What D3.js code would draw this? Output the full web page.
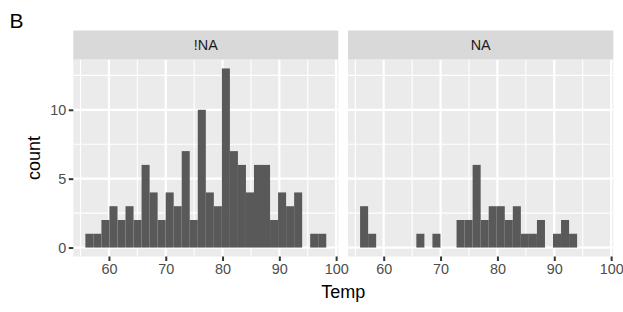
<!DOCTYPE html>
<html>
<head>
<meta charset="utf-8">
<script src="https://cdn.jsdelivr.net/npm/d3@7"></script>
<style>
  html, body { margin: 0; padding: 0; background: #fff; }
  svg { display: block; font-family: "Liberation Sans", Arial, Helvetica, sans-serif; }
</style>
</head>
<body>
<div id="chart"></div>
<script>
// histogram of Temp, faceted by whether Ozone is missing (30 bins, shared breaks)

const facetNames = ["!NA", "NA"];

// counts per bin, left to right
const countsNotNA = [1, 1, 2, 3, 2, 3, 2, 6, 4, 2, 4, 3, 7, 2, 10, 4, 3, 13, 7, 6, 4, 6, 6, 2, 4, 3, 4, 0, 1, 1];
const countsNA    = [3, 1, 0, 0, 0, 0, 0, 1, 0, 1, 0, 0, 2, 2, 6, 2, 3, 3, 2, 3, 1, 1, 2, 0, 1, 2, 1, 0, 0, 0];

// bin setup (range 56..97, 30 bins)
const binWidth = 41 / 29;
const binStart = 55.845;

const xTicks = [60, 70, 80, 90, 100];
const xMinor = [55, 65, 75, 85, 95];
const yTicks = [0, 5, 10];
const yMinor = [2.5, 7.5, 12.5];

const xDomain = [53.72, 100.38];
const yDomain = [-0.65, 13.65];

const W = 623, H = 312;

const svg = d3.select("#chart").append("svg")
  .attr("width", W)
  .attr("height", H);

// panel boxes
const panels = [
  { name: facetNames[0], counts: countsNotNA, x0: 73.3, x1: 338.3 },
  { name: facetNames[1], counts: countsNA,    x0: 348,  x1: 613.3 }
];
const stripTop = 30.5, panelTop = 59.5, panelBottom = 256.5;

const y = d3.scaleLinear().domain(yDomain).range([panelBottom, panelTop]);

panels.forEach((p, pi) => {
  const x = d3.scaleLinear().domain(xDomain).range([p.x0, p.x1]);
  const g = svg.append("g");

  // background
  g.append("rect")
    .attr("x", p.x0).attr("y", panelTop)
    .attr("width", p.x1 - p.x0).attr("height", panelBottom - panelTop)
    .attr("fill", "#EBEBEB");

  // minor grid
  g.selectAll(".xminor").data(xMinor).join("line")
    .attr("x1", d => x(d)).attr("x2", d => x(d))
    .attr("y1", panelTop).attr("y2", panelBottom)
    .attr("stroke", "#fff").attr("stroke-width", 1.1);
  g.selectAll(".yminor").data(yMinor).join("line")
    .attr("x1", p.x0).attr("x2", p.x1)
    .attr("y1", d => y(d)).attr("y2", d => y(d))
    .attr("stroke", "#fff").attr("stroke-width", 1.1);

  // major grid
  g.selectAll(".xmajor").data(xTicks).join("line")
    .attr("x1", d => x(d)).attr("x2", d => x(d))
    .attr("y1", panelTop).attr("y2", panelBottom)
    .attr("stroke", "#fff").attr("stroke-width", 2.2);
  g.selectAll(".ymajor").data(yTicks).join("line")
    .attr("x1", p.x0).attr("x2", p.x1)
    .attr("y1", d => y(d)).attr("y2", d => y(d))
    .attr("stroke", "#fff").attr("stroke-width", 2.2);

  // bars
  const bins = p.counts.map((c, i) => ({
    lo: binStart + i * binWidth,
    hi: binStart + (i + 1) * binWidth,
    n: c
  })).filter(d => d.n > 0);

  g.selectAll(".bar").data(bins).join("rect")
    .attr("x", d => x(d.lo))
    .attr("width", d => x(d.hi) - x(d.lo))
    .attr("y", d => y(d.n))
    .attr("height", d => y(0) - y(d.n))
    .attr("fill", "#595959");

  // strip
  svg.append("rect")
    .attr("x", p.x0).attr("y", stripTop)
    .attr("width", p.x1 - p.x0).attr("height", panelTop - stripTop)
    .attr("fill", "#D9D9D9");
  svg.append("text")
    .attr("x", (p.x0 + p.x1) / 2)
    .attr("y", (stripTop + panelTop) / 2)
    .attr("dy", "0.35em")
    .attr("text-anchor", "middle")
    .attr("font-size", 14.4)
    .attr("fill", "#1A1A1A")
    .text(p.name);

  // x axis
  const xAxis = svg.append("g")
    .attr("transform", `translate(0,${panelBottom})`)
    .call(d3.axisBottom(x).tickValues(xTicks).tickSize(4.5).tickPadding(3).tickFormat(d3.format("d")));
  xAxis.select(".domain").remove();
  xAxis.selectAll(".tick line").attr("stroke", "#333333").attr("stroke-width", 2);
  xAxis.selectAll(".tick text").attr("fill", "#4D4D4D").attr("font-size", 14.4)
    .attr("font-family", null);

  // y axis only on first panel
  if (pi === 0) {
    const yAxis = svg.append("g")
      .attr("transform", `translate(${p.x0},0)`)
      .call(d3.axisLeft(y).tickValues(yTicks).tickSize(4.5).tickPadding(2.5));
    yAxis.select(".domain").remove();
    yAxis.selectAll(".tick line").attr("stroke", "#333333").attr("stroke-width", 2);
    yAxis.selectAll(".tick text").attr("fill", "#4D4D4D").attr("font-size", 14.4)
      .attr("font-family", null);
  }
});

// axis titles
svg.append("text")
  .attr("x", (panels[0].x0 + panels[1].x1) / 2)
  .attr("y", 297.5)
  .attr("text-anchor", "middle")
  .attr("font-size", 18)
  .attr("fill", "#000")
  .text("Temp");

svg.append("text")
  .attr("transform", `translate(39.5,${(panelTop + panelBottom) / 2}) rotate(-90)`)
  .attr("text-anchor", "middle")
  .attr("font-size", 18)
  .attr("fill", "#000")
  .text("count");

// panel tag
svg.append("text")
  .attr("x", 9.5)
  .attr("y", 28)
  .attr("font-size", 21)
  .attr("fill", "#000")
  .text("B");
</script>
</body>
</html>
